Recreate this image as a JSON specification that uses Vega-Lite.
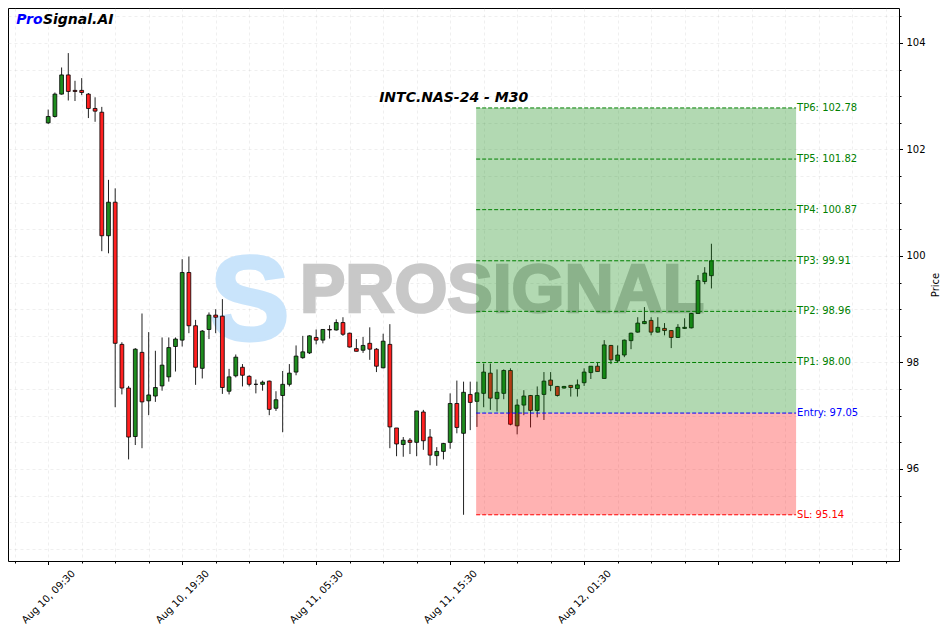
{
  "$schema": "https://vega.github.io/schema/vega-lite/v6.json",
  "width": 891,
  "height": 553,
  "autosize": {"type": "none"},
  "padding": {"left": 8, "top": 8, "right": 48, "bottom": 71},
  "background": "white",
  "config": {
    "font": "DejaVu Sans",
    "view": {"stroke": "#000000", "strokeWidth": 1},
    "axis": {"labelFont": "DejaVu Sans", "titleFont": "DejaVu Sans"}
  },
  "resolve": {"axis": {"x": "independent", "y": "independent"}},
  "datasets": {
    "candles": [
      {"i":0,"o":102.50,"h":102.75,"l":102.48,"c":102.62},
      {"i":1,"o":102.62,"h":103.07,"l":102.60,"c":103.04},
      {"i":2,"o":103.04,"h":103.54,"l":103.03,"c":103.40},
      {"i":3,"o":103.40,"h":103.81,"l":102.92,"c":103.09},
      {"i":4,"o":103.11,"h":103.29,"l":102.91,"c":103.09},
      {"i":5,"o":103.11,"h":103.34,"l":103.02,"c":103.07},
      {"i":6,"o":103.04,"h":103.06,"l":102.59,"c":102.77},
      {"i":7,"o":102.77,"h":102.98,"l":102.52,"c":102.72},
      {"i":8,"o":102.70,"h":102.80,"l":100.09,"c":100.38},
      {"i":9,"o":100.38,"h":101.43,"l":100.05,"c":101.01},
      {"i":10,"o":101.01,"h":101.27,"l":97.16,"c":98.36},
      {"i":11,"o":98.34,"h":98.38,"l":97.40,"c":97.52},
      {"i":12,"o":97.52,"h":97.56,"l":96.18,"c":96.60},
      {"i":13,"o":96.61,"h":98.27,"l":96.45,"c":98.25},
      {"i":14,"o":98.19,"h":98.92,"l":96.39,"c":97.26},
      {"i":15,"o":97.28,"h":98.57,"l":97.01,"c":97.39},
      {"i":16,"o":97.37,"h":98.22,"l":97.26,"c":97.53},
      {"i":17,"o":97.56,"h":98.47,"l":97.47,"c":97.95},
      {"i":18,"o":97.73,"h":98.47,"l":97.64,"c":98.28},
      {"i":19,"o":98.30,"h":98.47,"l":97.83,"c":98.44},
      {"i":20,"o":98.42,"h":99.94,"l":98.30,"c":99.69},
      {"i":21,"o":99.69,"h":99.99,"l":98.55,"c":98.69},
      {"i":22,"o":98.69,"h":98.80,"l":97.58,"c":97.91},
      {"i":23,"o":97.89,"h":98.61,"l":97.70,"c":98.59},
      {"i":24,"o":98.62,"h":98.94,"l":98.44,"c":98.89},
      {"i":25,"o":98.89,"h":99.00,"l":98.55,"c":98.85},
      {"i":26,"o":98.87,"h":99.19,"l":97.41,"c":97.53},
      {"i":27,"o":97.46,"h":97.88,"l":97.40,"c":97.73},
      {"i":28,"o":97.75,"h":98.15,"l":97.72,"c":98.10},
      {"i":29,"o":97.91,"h":97.97,"l":97.55,"c":97.76},
      {"i":30,"o":97.74,"h":97.76,"l":97.55,"c":97.59},
      {"i":31,"o":97.59,"h":97.68,"l":97.42,"c":97.59},
      {"i":32,"o":97.59,"h":97.66,"l":97.47,"c":97.63},
      {"i":33,"o":97.65,"h":97.66,"l":97.01,"c":97.12},
      {"i":34,"o":97.14,"h":97.46,"l":97.09,"c":97.30},
      {"i":35,"o":97.38,"h":97.84,"l":96.69,"c":97.59},
      {"i":36,"o":97.59,"h":97.97,"l":97.55,"c":97.80},
      {"i":37,"o":97.82,"h":98.32,"l":97.76,"c":98.12},
      {"i":38,"o":98.09,"h":98.50,"l":98.07,"c":98.20},
      {"i":39,"o":98.18,"h":98.51,"l":98.16,"c":98.50},
      {"i":40,"o":98.47,"h":98.62,"l":98.34,"c":98.42},
      {"i":41,"o":98.42,"h":98.62,"l":98.36,"c":98.62},
      {"i":42,"o":98.62,"h":98.70,"l":98.45,"c":98.61},
      {"i":43,"o":98.61,"h":98.81,"l":98.60,"c":98.75},
      {"i":44,"o":98.75,"h":98.85,"l":98.50,"c":98.53},
      {"i":45,"o":98.55,"h":98.56,"l":98.28,"c":98.29},
      {"i":46,"o":98.26,"h":98.44,"l":98.21,"c":98.21},
      {"i":47,"o":98.23,"h":98.48,"l":98.18,"c":98.32},
      {"i":48,"o":98.36,"h":98.66,"l":98.05,"c":98.25},
      {"i":49,"o":98.25,"h":98.27,"l":97.82,"c":97.93},
      {"i":50,"o":97.90,"h":98.54,"l":97.89,"c":98.40},
      {"i":51,"o":98.34,"h":98.72,"l":96.39,"c":96.79},
      {"i":52,"o":96.77,"h":96.77,"l":96.24,"c":96.47},
      {"i":53,"o":96.46,"h":96.60,"l":96.23,"c":96.54},
      {"i":54,"o":96.54,"h":96.58,"l":96.28,"c":96.50},
      {"i":55,"o":96.50,"h":97.09,"l":96.24,"c":97.09},
      {"i":56,"o":97.07,"h":97.11,"l":96.36,"c":96.53},
      {"i":57,"o":96.60,"h":96.75,"l":96.07,"c":96.26},
      {"i":58,"o":96.25,"h":96.41,"l":96.06,"c":96.33},
      {"i":59,"o":96.33,"h":96.49,"l":96.18,"c":96.48},
      {"i":60,"o":96.50,"h":97.42,"l":96.38,"c":97.23},
      {"i":61,"o":97.23,"h":97.66,"l":96.67,"c":96.78},
      {"i":62,"o":96.67,"h":97.64,"l":95.14,"c":97.44},
      {"i":63,"o":97.40,"h":97.64,"l":96.73,"c":97.25},
      {"i":64,"o":97.27,"h":97.64,"l":96.79,"c":97.43},
      {"i":65,"o":97.42,"h":97.98,"l":97.16,"c":97.82},
      {"i":66,"o":97.80,"h":97.98,"l":97.11,"c":97.33},
      {"i":67,"o":97.32,"h":97.87,"l":97.08,"c":97.44},
      {"i":68,"o":97.42,"h":97.87,"l":97.31,"c":97.85},
      {"i":69,"o":97.85,"h":97.89,"l":96.82,"c":96.84},
      {"i":70,"o":96.81,"h":97.31,"l":96.65,"c":97.20},
      {"i":71,"o":97.20,"h":97.48,"l":97.01,"c":97.37},
      {"i":72,"o":97.38,"h":97.39,"l":96.78,"c":97.10},
      {"i":73,"o":97.10,"h":97.55,"l":96.97,"c":97.38},
      {"i":74,"o":97.40,"h":97.82,"l":96.92,"c":97.65},
      {"i":75,"o":97.67,"h":97.82,"l":97.46,"c":97.57},
      {"i":76,"o":97.55,"h":97.56,"l":97.36,"c":97.38},
      {"i":77,"o":97.52,"h":97.56,"l":97.51,"c":97.55},
      {"i":78,"o":97.57,"h":97.57,"l":97.36,"c":97.53},
      {"i":79,"o":97.51,"h":97.68,"l":97.36,"c":97.58},
      {"i":80,"o":97.62,"h":97.89,"l":97.56,"c":97.82},
      {"i":81,"o":97.81,"h":97.93,"l":97.69,"c":97.93},
      {"i":82,"o":97.93,"h":98.01,"l":97.83,"c":97.83},
      {"i":83,"o":97.70,"h":98.42,"l":97.70,"c":98.33},
      {"i":84,"o":98.32,"h":98.33,"l":97.97,"c":98.05},
      {"i":85,"o":98.03,"h":98.32,"l":98.00,"c":98.14},
      {"i":86,"o":98.14,"h":98.43,"l":98.10,"c":98.42},
      {"i":87,"o":98.41,"h":98.56,"l":98.25,"c":98.55},
      {"i":88,"o":98.57,"h":98.85,"l":98.56,"c":98.74},
      {"i":89,"o":98.73,"h":99.04,"l":98.72,"c":98.77},
      {"i":90,"o":98.79,"h":98.85,"l":98.51,"c":98.57},
      {"i":91,"o":98.57,"h":98.85,"l":98.56,"c":98.66},
      {"i":92,"o":98.64,"h":98.74,"l":98.51,"c":98.60},
      {"i":93,"o":98.60,"h":98.61,"l":98.27,"c":98.47},
      {"i":94,"o":98.47,"h":98.72,"l":98.46,"c":98.66},
      {"i":95,"o":98.64,"h":98.83,"l":98.63,"c":98.66},
      {"i":96,"o":98.65,"h":98.93,"l":98.64,"c":98.92},
      {"i":97,"o":98.92,"h":99.64,"l":98.92,"c":99.54},
      {"i":98,"o":99.52,"h":99.79,"l":99.47,"c":99.68},
      {"i":99,"o":99.63,"h":100.23,"l":99.39,"c":99.91}
    ],
    "levels": [
      {"label":"TP6: 102.78","value":102.78,"kind":"tp","x1":63.88,"x2":111.64},
      {"label":"TP5: 101.82","value":101.82,"kind":"tp","x1":63.88,"x2":111.64},
      {"label":"TP4: 100.87","value":100.87,"kind":"tp","x1":63.88,"x2":111.64},
      {"label":"TP3: 99.91","value":99.91,"kind":"tp","x1":63.88,"x2":111.64},
      {"label":"TP2: 98.96","value":98.96,"kind":"tp","x1":63.88,"x2":111.64},
      {"label":"TP1: 98.00","value":98.00,"kind":"tp","x1":63.88,"x2":111.64},
      {"label":"Entry: 97.05","value":97.05,"kind":"entry","x1":63.88,"x2":111.64},
      {"label":"SL: 95.14","value":95.14,"kind":"sl","x1":63.88,"x2":111.64}
    ]
  },
  "layer": [
    {
      "data": {"values": [{"label": "S", "i": 30.07, "p": 98.42}]},
      "mark": {"type": "text", "font": "Liberation Sans", "fontWeight": "bold", "fontSize": 120, "fill": "#c9e4fb", "stroke": "#c9e4fb", "strokeWidth": 3, "align": "center", "baseline": "alphabetic"},
      "encoding": {
        "x": {"field": "i", "type": "quantitative", "scale": {"domain": [-6, 127], "nice": false, "zero": false, "padding": 0}, "axis": null},
        "y": {"field": "p", "type": "quantitative", "scale": {"domain": [94.272, 104.657], "nice": false, "zero": false, "padding": 0}, "axis": null},
        "text": {"field": "label"}
      }
    },
    {
      "data": {"values": [{"label": "PROSIGNAL", "i": 67.76, "p": 98.95}]},
      "mark": {"type": "text", "font": "Liberation Sans", "fontWeight": "bold", "fontSize": 68, "fill": "#c8c8c8", "stroke": "#c8c8c8", "strokeWidth": 2.5, "align": "center", "baseline": "alphabetic"},
      "encoding": {
        "x": {"field": "i", "type": "quantitative", "scale": {"domain": [-6, 127], "nice": false, "zero": false, "padding": 0}, "axis": null},
        "y": {"field": "p", "type": "quantitative", "scale": {"domain": [94.272, 104.657], "nice": false, "zero": false, "padding": 0}, "axis": null},
        "text": {"field": "label"}
      }
    },
    {
      "data": {"name": "candles"},
      "mark": {"type": "rule", "color": "#222222", "strokeWidth": 1},
      "encoding": {
        "x": {
          "field": "i", "type": "quantitative",
          "scale": {"domain": [-6, 127], "nice": false, "zero": false, "padding": 0},
          "axis": {
            "values": [-5,0,5,10,15,20,25,30,35,40,45,50,55,60,65,70,75,80,85,90,95,100,105,110,115,120,125],
            "title": null,
            "domain": false,
            "grid": true,
            "gridColor": "#b0b0b0",
            "gridOpacity": 0.25,
            "gridDash": [3, 3],
            "gridWidth": 0.8,
            "tickColor": "#000000",
            "tickWidth": 1,
            "tickSize": {"condition": {"test": "datum.value % 20 === 0", "value": 3.5}, "value": 2},
            "labelExpr": "datum.value === 0 ? 'Aug 10, 09:30' : datum.value === 20 ? 'Aug 10, 19:30' : datum.value === 40 ? 'Aug 11, 05:30' : datum.value === 60 ? 'Aug 11, 15:30' : datum.value === 80 ? 'Aug 12, 01:30' : ''",
            "labelAngle": -45,
            "labelAlign": "center",
            "labelBaseline": "middle",
            "labelPadding": 32,
            "labelFontSize": 10,
            "labelColor": "#000000",
            "labelOverlap": false,
            "labelFlush": false,
            "labelBound": false
          }
        },
        "y": {
          "field": "l", "type": "quantitative",
          "scale": {"domain": [94.272, 104.657], "nice": false, "zero": false, "padding": 0},
          "axis": {
            "orient": "right",
            "values": [94.5,95,95.5,96,96.5,97,97.5,98,98.5,99,99.5,100,100.5,101,101.5,102,102.5,103,103.5,104,104.5],
            "title": "Price",
            "titleX": 36,
            "titleY": 276.5,
            "titleAngle": 270,
            "titleAlign": "center",
            "titleBaseline": "middle",
            "titleFontSize": 10,
            "titleFontWeight": "normal",
            "titleColor": "#000000",
            "domain": false,
            "grid": true,
            "gridColor": "#b0b0b0",
            "gridOpacity": 0.25,
            "gridDash": [3, 3],
            "gridWidth": 0.8,
            "tickColor": "#000000",
            "tickWidth": 1,
            "tickSize": {"condition": {"test": "datum.value % 2 === 0", "value": 3.5}, "value": 2},
            "labelExpr": "datum.value % 2 === 0 ? format(datum.value, 'd') : ''",
            "labelPadding": 3.5,
            "labelFontSize": 10,
            "labelColor": "#000000",
            "labelAlign": "left",
            "labelBaseline": "middle",
            "labelOverlap": false,
            "labelFlush": false,
            "labelBound": false
          }
        },
        "y2": {"field": "h"}
      }
    },
    {
      "data": {"name": "candles"},
      "mark": {"type": "bar", "size": 3.8, "stroke": "#000000", "strokeWidth": 0.8},
      "encoding": {
        "x": {"field": "i", "type": "quantitative", "scale": {"domain": [-6, 127], "nice": false, "zero": false, "padding": 0}, "axis": null},
        "y": {"field": "o", "type": "quantitative", "scale": {"domain": [94.272, 104.657], "nice": false, "zero": false, "padding": 0}, "axis": null},
        "y2": {"field": "c"},
        "fill": {"condition": {"test": "datum.c >= datum.o", "value": "#1f8c1f"}, "value": "#ff2020"}
      }
    },
    {
      "data": {"values": [{"x1": 63.88, "x2": 111.64, "lo": 97.05, "hi": 102.78}]},
      "mark": {"type": "rect", "fill": "#008000", "opacity": 0.3},
      "encoding": {
        "x": {"field": "x1", "type": "quantitative", "scale": {"domain": [-6, 127], "nice": false, "zero": false, "padding": 0}, "axis": null},
        "x2": {"field": "x2"},
        "y": {"field": "lo", "type": "quantitative", "scale": {"domain": [94.272, 104.657], "nice": false, "zero": false, "padding": 0}, "axis": null},
        "y2": {"field": "hi"}
      }
    },
    {
      "data": {"values": [{"x1": 63.88, "x2": 111.64, "lo": 95.14, "hi": 97.05}]},
      "mark": {"type": "rect", "fill": "#ff0000", "opacity": 0.3},
      "encoding": {
        "x": {"field": "x1", "type": "quantitative", "scale": {"domain": [-6, 127], "nice": false, "zero": false, "padding": 0}, "axis": null},
        "x2": {"field": "x2"},
        "y": {"field": "lo", "type": "quantitative", "scale": {"domain": [94.272, 104.657], "nice": false, "zero": false, "padding": 0}, "axis": null},
        "y2": {"field": "hi"}
      }
    },
    {
      "data": {"name": "levels"},
      "mark": {"type": "rule", "strokeWidth": 1, "strokeDash": [4, 2]},
      "encoding": {
        "x": {"field": "x1", "type": "quantitative", "scale": {"domain": [-6, 127], "nice": false, "zero": false, "padding": 0}, "axis": null},
        "x2": {"field": "x2"},
        "y": {"field": "value", "type": "quantitative", "scale": {"domain": [94.272, 104.657], "nice": false, "zero": false, "padding": 0}, "axis": null},
        "color": {"condition": [{"test": "datum.kind === 'entry'", "value": "#0000ff"}, {"test": "datum.kind === 'sl'", "value": "#ff0000"}], "value": "#008000"}
      }
    },
    {
      "data": {"name": "levels"},
      "mark": {"type": "text", "align": "left", "baseline": "middle", "fontSize": 10, "dx": 1},
      "encoding": {
        "x": {"field": "x2", "type": "quantitative", "scale": {"domain": [-6, 127], "nice": false, "zero": false, "padding": 0}, "axis": null},
        "y": {"field": "value", "type": "quantitative", "scale": {"domain": [94.272, 104.657], "nice": false, "zero": false, "padding": 0}, "axis": null},
        "text": {"field": "label"},
        "color": {"condition": [{"test": "datum.kind === 'entry'", "value": "#0000ff"}, {"test": "datum.kind === 'sl'", "value": "#ff0000"}], "value": "#008000"}
      }
    },
    {
      "data": {"values": [{"label": "INTC.NAS-24 - M30", "i": 60.52, "p": 102.892}]},
      "mark": {"type": "text", "fontSize": 14, "fontWeight": "bold", "fontStyle": "italic", "color": "#000000", "align": "center", "baseline": "alphabetic"},
      "encoding": {
        "x": {"field": "i", "type": "quantitative", "scale": {"domain": [-6, 127], "nice": false, "zero": false, "padding": 0}, "axis": null},
        "y": {"field": "p", "type": "quantitative", "scale": {"domain": [94.272, 104.657], "nice": false, "zero": false, "padding": 0}, "axis": null},
        "text": {"field": "label"}
      }
    },
    {
      "data": {"values": [{"label": "Pro", "i": -4.776, "p": 104.357}]},
      "mark": {"type": "text", "fontSize": 14, "fontWeight": "bold", "fontStyle": "italic", "color": "#0000ff", "align": "left", "baseline": "alphabetic"},
      "encoding": {
        "x": {"field": "i", "type": "quantitative", "scale": {"domain": [-6, 127], "nice": false, "zero": false, "padding": 0}, "axis": null},
        "y": {"field": "p", "type": "quantitative", "scale": {"domain": [94.272, 104.657], "nice": false, "zero": false, "padding": 0}, "axis": null},
        "text": {"field": "label"}
      }
    },
    {
      "data": {"values": [{"label": "Signal.AI", "i": -0.78, "p": 104.357}]},
      "mark": {"type": "text", "fontSize": 14, "fontWeight": "bold", "fontStyle": "italic", "color": "#000000", "align": "left", "baseline": "alphabetic"},
      "encoding": {
        "x": {"field": "i", "type": "quantitative", "scale": {"domain": [-6, 127], "nice": false, "zero": false, "padding": 0}, "axis": null},
        "y": {"field": "p", "type": "quantitative", "scale": {"domain": [94.272, 104.657], "nice": false, "zero": false, "padding": 0}, "axis": null},
        "text": {"field": "label"}
      }
    }
  ]
}
